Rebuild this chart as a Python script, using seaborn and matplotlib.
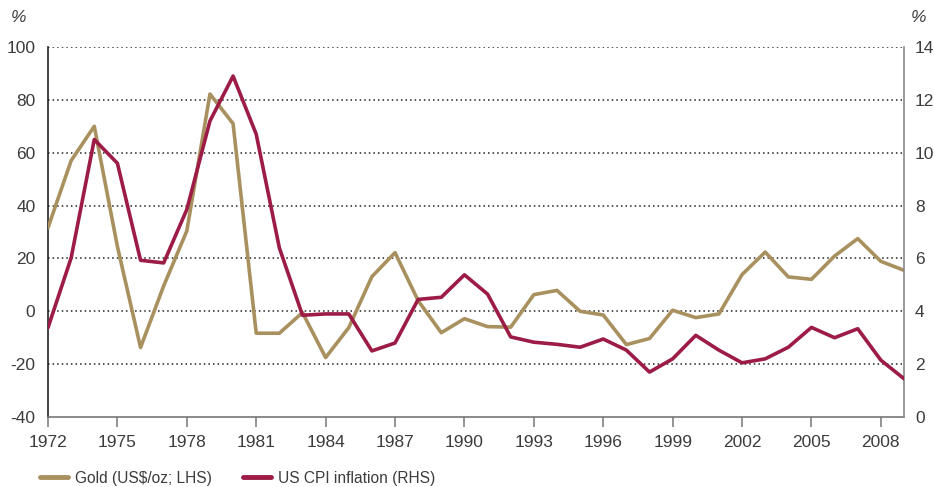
import matplotlib
matplotlib.use("Agg")
import matplotlib.pyplot as plt
import seaborn as sns
import pandas as pd
from matplotlib.lines import Line2D

years = list(range(1972, 2010))
gold = [31.6, 57.0, 70.0, 24.5, -13.7, 9.6, 30.4, 82.2, 71.0, -8.3,
        -8.3, -0.5, -17.5, -6.2, 13.1, 22.2, 4.0, -8.1, -2.8, -5.8,
        -6.0, 6.3, 7.9, 0.0, -1.4, -12.6, -10.3, 0.4, -2.4, -1.0,
        13.9, 22.4, 13.0, 12.1, 20.9, 27.5, 18.9, 15.5]
cpi = [3.38, 6.02, 10.5, 9.6, 5.93, 5.83, 7.85, 11.2, 12.9, 10.7,
       6.4, 3.85, 3.9, 3.9, 2.5, 2.8, 4.45, 4.53, 5.38, 4.65,
       3.03, 2.83, 2.75, 2.64, 2.95, 2.53, 1.70, 2.2, 3.09, 2.53,
       2.05, 2.2, 2.64, 3.39, 3.0, 3.34, 2.15, 1.45]
xticks = list(range(1972, 2009, 3))
left_ticks = [-40, -20, 0, 20, 40, 60, 80, 100]
right_ticks = [0, 2, 4, 6, 8, 10, 12, 14]
gold_label = "Gold (US\\$/oz; LHS)"
cpi_label = "US CPI inflation (RHS)"

GOLD = "#A8915F"
RED = "#9C1C45"
TXT = "#3c3c3c"
FS = 12.5

sns.set_theme(style="white")
plt.rcParams['font.family'] = ['Liberation Sans', 'DejaVu Sans']
plt.rcParams['axes.unicode_minus'] = False

df = pd.DataFrame({"year": years, "gold": gold, "cpi": cpi})

fig = plt.figure(figsize=(9.34, 4.87), dpi=100)
ax = fig.add_axes([48/934, 1-417/487, (904-48)/934, (417-47)/487])
ax2 = ax.twinx()

sns.lineplot(data=df, x="year", y="gold", ax=ax, color=GOLD, lw=2.6, zorder=3)
sns.lineplot(data=df, x="year", y="cpi", ax=ax2, color=RED, lw=2.6, zorder=3)

ax.set_xlim(1972, 2009)
ax.set_ylim(-40, 100)
ax2.set_ylim(0, 14)
ax.set_xticks(xticks)
ax.set_xticklabels([str(t) for t in xticks])
ax.set_yticks(left_ticks)
ax.set_yticklabels([str(t) for t in left_ticks])
ax2.set_yticks(right_ticks)
ax2.set_yticklabels([str(t) for t in right_ticks])
ax.set_xlabel("")
ax.set_ylabel("")
ax2.set_ylabel("")

for t in left_ticks[1:]:
    ax.axhline(t, color="#222222", lw=1.1, ls=(0, (1, 2)), zorder=1)

for a in (ax, ax2):
    a.spines["top"].set_visible(False)
ax.spines["left"].set_color("#222222")
ax.spines["bottom"].set_color("#777777")
ax.spines["right"].set_visible(False)
ax2.spines["left"].set_visible(False)
ax2.spines["bottom"].set_visible(False)
ax2.spines["right"].set_color("#888888")
for a in (ax, ax2):
    for s in a.spines.values():
        s.set_linewidth(1.2)

ax.tick_params(axis="x", which="major", bottom=True, length=7, width=1.1,
               color="#777777", labelsize=FS, labelcolor=TXT, pad=6)
ax.tick_params(axis="y", left=False, length=0, labelsize=FS, labelcolor=TXT, pad=9)
ax2.tick_params(axis="y", right=False, length=0, labelsize=FS, labelcolor=TXT, pad=8)

fig.text(19/934, 1-18/487, "%", fontsize=FS, color=TXT, style="italic", ha="center", va="center")
fig.text(919/934, 1-17/487, "%", fontsize=FS, color=TXT, style="italic", ha="center", va="center")

handles = [Line2D([0], [0], color=GOLD, lw=3.5), Line2D([0], [0], color=RED, lw=3.5)]
fig.legend(handles, [gold_label, cpi_label], loc="center left",
           bbox_to_anchor=(40/934, 1-478/487), ncol=2, frameon=False,
           fontsize=11.2, labelcolor=TXT, handlelength=1.8, handletextpad=0.45,
           columnspacing=2.0, borderaxespad=0, borderpad=0)

fig.savefig("out.png", dpi=100)
